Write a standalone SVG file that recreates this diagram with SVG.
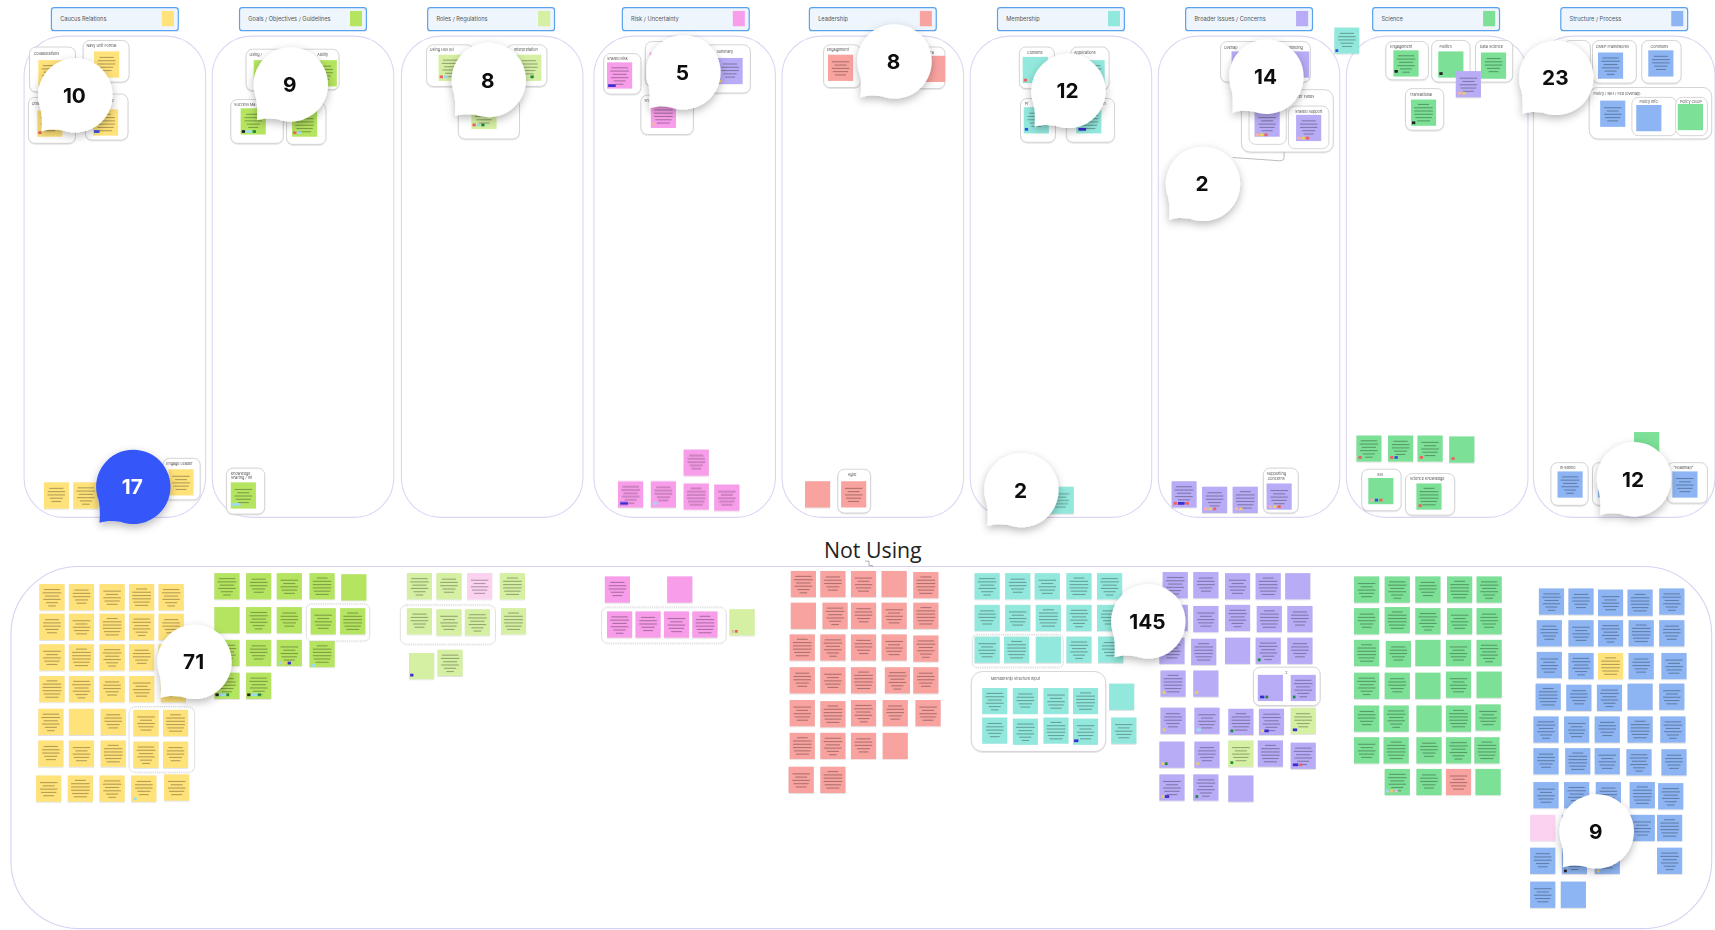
<svg xmlns="http://www.w3.org/2000/svg" width="1715" height="930" viewBox="0 0 1715 930">
<style>
.col{fill:none;stroke:#DCD5F4;stroke-width:1}
.hdr{fill:#EEF5FD;stroke:#5AA2EE;stroke-width:1.1}
.ht{font-family:"Inter","Liberation Sans",sans-serif;font-size:5.2px;fill:#555}
.fr{fill:#fff;stroke:#C9C9C9;stroke-width:0.7}
.ft{font-family:"Inter","Liberation Sans",sans-serif;font-size:3.4px;fill:#555}
.dg{fill:none;stroke:#C4C4C4;stroke-width:0.6;stroke-dasharray:1.2 0.8}
.num{font-family:"Inter","Liberation Sans",sans-serif;font-weight:700;font-size:19px;text-anchor:middle;fill:#111}
.y{fill:#FFE27A}.g{fill:#B5E461}.lg{fill:#D5EFA3}.p{fill:#F79DE9}.s{fill:#F8A3A0}.t{fill:#93E8DD}.v{fill:#B9ACF6}.gr{fill:#7CE096}.b{fill:#8DB5F3}.lp{fill:#FBD3F0}
.ln rect{fill:#000;opacity:.3}
.tag{stroke:none}
</style>
<defs>
<filter id="sh" x="-20%" y="-20%" width="140%" height="150%"><feDropShadow dx="0" dy="0.6" stdDeviation="0.6" flood-opacity="0.18"/></filter>
<filter id="bs" x="-50%" y="-50%" width="200%" height="200%"><feDropShadow dx="0" dy="3" stdDeviation="4" flood-opacity="0.28"/></filter>
<g id="n0"><rect width="23" height="24"/></g>
<g id="n1"><rect width="23" height="24"/><g class="ln"><rect x="4" y="4.5" width="15" height="1"/><rect x="3" y="7.5" width="17" height="1"/><rect x="5" y="10.5" width="13" height="1"/><rect x="3.5" y="13.5" width="16" height="1"/><rect x="6" y="16.5" width="11" height="1"/><rect x="8" y="19.5" width="7" height="1"/></g></g>
<g id="n2"><rect width="23" height="24"/><g class="ln"><rect x="5" y="5" width="13" height="1"/><rect x="3.5" y="8" width="16" height="1"/><rect x="3.5" y="11" width="16" height="1"/><rect x="5.5" y="14" width="12" height="1"/><rect x="7" y="17" width="9" height="1"/></g></g>
<g id="n3"><rect width="23" height="24"/><g class="ln"><rect x="3.5" y="6" width="16" height="1"/><rect x="6" y="9" width="11" height="1"/><rect x="3.5" y="12" width="16" height="1"/><rect x="4.5" y="15" width="14" height="1"/><rect x="6.5" y="18" width="10" height="1"/></g></g>
<g id="n4"><rect width="23" height="24"/><g class="ln"><rect x="6.5" y="4" width="10" height="1"/><rect x="3" y="7" width="17" height="1"/><rect x="3" y="10" width="17" height="1"/><rect x="3" y="13" width="17" height="1"/><rect x="4" y="16" width="15" height="1"/><rect x="5.5" y="19" width="12" height="1"/></g></g>
<path id="bub" d="M-31,12 C-29,22 -30,29 -30,33 C-24,31 -18,31 -11,32 A34,34 0 1 0 -31,12 Z"/>
</defs>

<g transform="scale(1.09375)">
<!-- columns -->
<g id="columns">
<rect class="col" x="22" y="33" width="166" height="440" rx="36"/>
<rect class="col" x="194" y="33" width="166" height="440" rx="36"/>
<rect class="col" x="367" y="33" width="166" height="440" rx="36"/>
<rect class="col" x="543" y="33" width="166" height="440" rx="36"/>
<rect class="col" x="715" y="33" width="166" height="440" rx="36"/>
<rect class="col" x="887" y="33" width="166" height="440" rx="36"/>
<rect class="col" x="1059" y="33" width="166" height="440" rx="36"/>
<rect class="col" x="1231" y="33" width="166" height="440" rx="36"/>
<rect class="col" x="1402" y="33" width="166" height="440" rx="36"/>
</g>

<!-- headers -->
<g id="hdr-caucus"><rect class="hdr" x="47" y="7" width="116" height="21" rx="2.5"/><text class="ht" x="55" y="19">Caucus Relations</text><rect class="y" x="148" y="10" width="11" height="14"/></g>
<g id="hdr-goals"><rect class="hdr" x="219" y="7" width="116" height="21" rx="2.5"/><text class="ht" x="227" y="19">Goals / Objectives / Guidelines</text><rect class="g" x="320" y="10" width="11" height="14"/></g>
<g id="hdr-roles"><rect class="hdr" x="391" y="7" width="116" height="21" rx="2.5"/><text class="ht" x="399" y="19">Roles / Regulations</text><rect class="lg" x="492" y="10" width="11" height="14"/></g>
<g id="hdr-risk"><rect class="hdr" x="569" y="7" width="116" height="21" rx="2.5"/><text class="ht" x="577" y="19">Risk / Uncertainty</text><rect class="p" x="670" y="10" width="11" height="14"/></g>
<g id="hdr-lead"><rect class="hdr" x="740" y="7" width="116" height="21" rx="2.5"/><text class="ht" x="748" y="19">Leadership</text><rect class="s" x="841" y="10" width="11" height="14"/></g>
<g id="hdr-member"><rect class="hdr" x="912" y="7" width="116" height="21" rx="2.5"/><text class="ht" x="920" y="19">Membership</text><rect class="t" x="1013" y="10" width="11" height="14"/></g>
<g id="hdr-broader"><rect class="hdr" x="1084" y="7" width="116" height="21" rx="2.5"/><text class="ht" x="1092" y="19">Broader Issues / Concerns</text><rect class="v" x="1185" y="10" width="11" height="14"/></g>
<g id="hdr-science"><rect class="hdr" x="1255" y="7" width="116" height="21" rx="2.5"/><text class="ht" x="1263" y="19">Science</text><rect class="gr" x="1356" y="10" width="11" height="14"/></g>
<g id="hdr-structure"><rect class="hdr" x="1427" y="7" width="116" height="21" rx="2.5"/><text class="ht" x="1435" y="19">Structure / Process</text><rect class="b" x="1528" y="10" width="11" height="14"/></g>

<!-- column contents -->
<g id="col1" filter="url(#sh)">
<rect class="fr" x="27" y="43" width="42" height="41" rx="6"/><text class="ft" x="31" y="50">Collaborations</text><use href="#n1" x="35" y="55" class="y"/>
<rect class="fr" x="76" y="37" width="42" height="38" rx="6"/><text class="ft" x="79" y="43">Navy Unit Formal</text><use href="#n2" x="86" y="47" class="y"/>
<rect class="fr" x="26" y="89" width="43" height="42" rx="6"/><text class="ft" x="29" y="96">Other</text><use href="#n3" x="34" y="101" class="y"/><rect class="tag" x="35" y="120" width="3" height="2.5" fill="#F06060"/>
<rect class="fr" x="78" y="86" width="39" height="42" rx="6"/><text class="ft" x="95" y="93">Letter</text><use href="#n4" x="85" y="100" class="y"/><rect class="tag" x="86" y="119" width="5" height="2.5" fill="#3050E0"/>
<use href="#n2" x="40" y="441" class="y"/><use href="#n1" x="67" y="441" class="y"/>
<rect class="fr" x="149" y="419" width="34" height="38" rx="6"/><text class="ft" x="152" y="425">Engage Leader</text><use href="#n3" x="154" y="429" class="y"/>
</g>
<g id="col2" filter="url(#sh)">
<rect class="fr" x="225" y="45" width="38" height="38" rx="6"/><text class="ft" x="228" y="51">Using /</text><use href="#n1" x="232" y="55" class="g"/>
<rect class="fr" x="264" y="45" width="46" height="37" rx="6"/><text class="ft" x="290" y="51">Ability</text><use href="#n2" x="285" y="55" class="g"/>
<rect class="fr" x="211" y="91" width="48" height="40" rx="6"/><text class="ft" x="214" y="97">Success Ma</text><use href="#n2" x="220" y="99" class="g"/><rect class="tag" x="221" y="119" width="3" height="2.5" fill="#222"/><rect class="tag" x="225" y="119" width="5" height="2.5" fill="#9DDCF0"/><rect class="tag" x="231" y="119" width="3" height="2.5" fill="#1A8A3A"/>
<rect class="fr" x="262" y="94" width="36" height="38" rx="6"/><use href="#n4" x="267" y="101" class="g"/><rect class="tag" x="268" y="120" width="3" height="2.5" fill="#F06060"/><rect class="tag" x="272" y="120" width="4" height="2.5" fill="#9DDCF0"/>
<rect class="fr" x="207" y="428" width="35" height="42" rx="6"/><text class="ft" x="211" y="434">Knowledge</text><text class="ft" x="211" y="438">Sharing / Int</text><use href="#n3" x="211" y="441" class="g"/><rect class="tag" x="212" y="460" width="8" height="2.5" fill="#9DDCF0"/>
</g>
<g id="col3" filter="url(#sh)">
<rect class="fr" x="390" y="41" width="43" height="38" rx="6"/><text class="ft" x="393" y="47">Using Hos (Bi</text><use href="#n1" x="401" y="50" class="lg"/><rect class="tag" x="402" y="69" width="3" height="2.5" fill="#F06060"/><rect class="tag" x="406" y="69" width="4" height="2.5" fill="#9DDCF0"/>
<rect class="fr" x="463" y="41" width="37" height="38" rx="6"/><text class="ft" x="470" y="47">Interpretation</text><use href="#n2" x="472" y="50" class="lg"/><rect class="tag" x="485" y="69" width="3" height="2.5" fill="#1A8A3A"/>
<rect class="fr" x="419" y="91" width="56" height="36" rx="6"/><use href="#n3" x="431" y="94" class="lg"/><rect class="tag" x="432" y="113" width="3" height="2.5" fill="#F06060"/><rect class="tag" x="436" y="113" width="3" height="2.5" fill="#9DDCF0"/><rect class="tag" x="440" y="113" width="3" height="2.5" fill="#1A8A3A"/>
</g>
<g id="col4" filter="url(#sh)">
<rect class="fr" x="552" y="49" width="34" height="37" rx="6"/><text class="ft" x="555" y="55">Shared Risk</text><use href="#n1" x="555" y="57" class="p"/><rect class="tag" x="556" y="77" width="7" height="2.5" fill="#3B2FD0"/>
<rect class="fr" x="590" y="38" width="34" height="41" rx="6"/><use href="#n2" x="594" y="48" class="p"/>
<rect class="fr" x="645" y="41" width="41" height="44" rx="6"/><text class="ft" x="655" y="48">Summary</text><use href="#n2" x="656" y="53" class="v"/><rect class="tag" x="657" y="73" width="3" height="2.5" fill="#E8D060"/>
<rect class="fr" x="586" y="87" width="48" height="36" rx="6"/><text class="ft" x="589" y="93">Sh</text><use href="#n4" x="595" y="93" class="p"/><rect class="tag" x="596" y="112" width="3" height="2.5" fill="#F5B0B0"/>
<use href="#n2" x="625" y="411" class="p"/>
<use href="#n1" x="565" y="440" class="p"/><rect class="tag" x="567" y="459" width="7" height="2.5" fill="#3B2FD0"/>
<use href="#n2" x="595" y="440" class="p"/><rect class="tag" x="597" y="459" width="4" height="2.5" fill="#9DDCF0"/>
<use href="#n4" x="625" y="442" class="p"/>
<use href="#n3" x="653" y="443" class="p"/>
</g>
<g id="col5" filter="url(#sh)">
<rect class="fr" x="753" y="41" width="34" height="39" rx="6"/><text class="ft" x="756" y="47">Engagement</text><use href="#n3" x="757" y="50" class="s"/>
<rect class="fr" x="836" y="43" width="28" height="38" rx="6"/><text class="ft" x="850" y="49">Fa</text><use href="#n0" x="841" y="51" class="s"/>
<use href="#n0" x="736" y="440" class="s"/>
<rect class="fr" x="766" y="429" width="30" height="40" rx="6"/><text class="ft" x="775" y="435">Agile</text><use href="#n3" x="769" y="440" class="s"/>
</g>
<g id="col6" filter="url(#sh)">
<rect class="fr" x="932" y="43" width="32" height="38" rx="6"/><text class="ft" x="939" y="49">Convene</text><use href="#n0" x="935" y="52" class="t"/><rect class="tag" x="936" y="72" width="3" height="2.5" fill="#F06060"/>
<rect class="fr" x="979" y="43" width="35" height="39" rx="6"/><text class="ft" x="982" y="49">Applications</text><use href="#n1" x="987" y="55" class="t"/>
<rect class="fr" x="933" y="90" width="32" height="40" rx="6"/><text class="ft" x="937" y="96">Pr</text><use href="#n2" x="936" y="98" class="t"/><rect class="tag" x="937" y="117" width="3" height="2.5" fill="#3050E0"/>
<rect class="fr" x="975" y="90" width="44" height="40" rx="6"/><text class="ft" x="996" y="96">Affiliation</text><use href="#n4" x="984" y="98" class="t"/><rect class="tag" x="986" y="117" width="7" height="2.5" fill="#3B2FD0"/>
<use href="#n3" x="958" y="445" class="t"/>
</g>
<g id="col7" filter="url(#sh)">
<rect class="fr" x="1116" y="38" width="82" height="37" rx="6"/><text class="ft" x="1119" y="45">Overlap</text><text class="ft" x="1176" y="45">Spending</text><use href="#n0" x="1126" y="47" class="v"/><use href="#n0" x="1174" y="47" class="v"/>
<rect class="fr" x="1135" y="82" width="84" height="57" rx="8"/><text class="ft" x="1180" y="90">Officer Funds</text>
<rect class="fr" x="1142" y="94" width="34" height="38" rx="6"/><use href="#n3" x="1147" y="101" class="v"/><rect class="tag" x="1148" y="122" width="3" height="2.5" fill="#F5B0B0"/><rect class="tag" x="1152" y="122" width="3" height="2.5" fill="#E8D060"/><rect class="tag" x="1156" y="122" width="3" height="2.5" fill="#F06060"/>
<rect class="fr" x="1178" y="97" width="37" height="39" rx="6"/><text class="ft" x="1184" y="103">Shared Support</text><use href="#n2" x="1185" y="105" class="v"/><rect class="tag" x="1186" y="125" width="3" height="2.5" fill="#F5B0B0"/><rect class="tag" x="1190" y="125" width="3" height="2.5" fill="#E8D060"/><rect class="tag" x="1194" y="125" width="3" height="2.5" fill="#F06060"/>
<use href="#n2" x="1220" y="25" class="t"/><rect class="tag" x="1221" y="45" width="2.5" height="2.5" fill="#3050E0"/>
<use href="#n1" x="1071" y="440" class="v"/><rect class="tag" x="1073" y="459" width="3" height="2.5" fill="#F06060"/><rect class="tag" x="1077" y="459" width="6" height="2.5" fill="#3B2FD0"/><rect class="tag" x="1084" y="459" width="3" height="2.5" fill="#F06060"/>
<use href="#n2" x="1099" y="445" class="v"/><rect class="tag" x="1101" y="464" width="3" height="2.5" fill="#F5B0B0"/><rect class="tag" x="1105" y="464" width="3" height="2.5" fill="#E8D060"/><rect class="tag" x="1109" y="464" width="3" height="2.5" fill="#F06060"/>
<use href="#n4" x="1127" y="445" class="v"/><rect class="tag" x="1129" y="464" width="3" height="2.5" fill="#F5B0B0"/><rect class="tag" x="1133" y="464" width="3" height="2.5" fill="#E8D060"/>
<rect class="fr" x="1155" y="428" width="32" height="41" rx="6"/><text class="ft" x="1158" y="434">Supporting</text><text class="ft" x="1159" y="439">Concerns</text><use href="#n3" x="1158" y="442" class="v"/><rect class="tag" x="1160" y="462" width="3" height="2.5" fill="#F5B0B0"/><rect class="tag" x="1164" y="462" width="3" height="2.5" fill="#E8D060"/><rect class="tag" x="1168" y="462" width="3" height="2.5" fill="#F06060"/>
</g>
<g id="col8" filter="url(#sh)">
<rect class="fr" x="1267" y="38" width="39" height="35" rx="6"/><text class="ft" x="1271" y="44">Engagement</text><use href="#n1" x="1274" y="46" class="gr"/><rect class="tag" x="1275" y="64" width="3" height="2.5" fill="#222"/>
<rect class="fr" x="1309" y="37" width="35" height="38" rx="6"/><text class="ft" x="1316" y="44">Politics</text><use href="#n0" x="1315" y="47" class="gr"/><rect class="tag" x="1316" y="66" width="3" height="2.5" fill="#222"/>
<rect class="fr" x="1349" y="37" width="34" height="38" rx="6"/><text class="ft" x="1353" y="44">Data Science</text><use href="#n2" x="1354" y="48" class="gr"/>
<use href="#n3" x="1331" y="65" class="v"/><rect class="tag" x="1333" y="84" width="3" height="2.5" fill="#F5B0B0"/><rect class="tag" x="1337" y="84" width="3" height="2.5" fill="#E8D060"/>
<rect class="fr" x="1285" y="81" width="35" height="38" rx="6"/><text class="ft" x="1289" y="88">Translational</text><use href="#n4" x="1290" y="91" class="gr"/><rect class="tag" x="1291" y="111" width="3" height="2.5" fill="#222"/>
<use href="#n1" x="1240" y="398" class="gr"/><rect class="tag" x="1242" y="417" width="3" height="2.5" fill="#F06060"/>
<use href="#n2" x="1269" y="398" class="gr"/><rect class="tag" x="1271" y="417" width="3" height="2.5" fill="#F06060"/><rect class="tag" x="1275" y="417" width="3" height="2.5" fill="#3050E0"/>
<use href="#n3" x="1296" y="398" class="gr"/><rect class="tag" x="1298" y="417" width="3" height="2.5" fill="#F06060"/>
<use href="#n0" x="1325" y="399" class="gr"/><rect class="tag" x="1327" y="418" width="3" height="2.5" fill="#F06060"/>
<rect class="fr" x="1245" y="429" width="36" height="38" rx="6"/><text class="ft" x="1259" y="435">SBI</text><use href="#n0" x="1251" y="437" class="gr"/><rect class="tag" x="1253" y="456" width="3" height="2.5" fill="#F5B0B0"/><rect class="tag" x="1257" y="456" width="3" height="2.5" fill="#3050E0"/><rect class="tag" x="1261" y="456" width="3" height="2.5" fill="#F06060"/>
<rect class="fr" x="1285" y="433" width="45" height="38" rx="6"/><text class="ft" x="1289" y="439">Science Knowledge</text><use href="#n4" x="1295" y="442" class="gr"/><rect class="tag" x="1297" y="461" width="3" height="2.5" fill="#F06060"/>
</g>
<g id="col9" filter="url(#sh)">
<rect class="fr" x="1430" y="37" width="24" height="38" rx="6"/>
<rect class="fr" x="1456" y="37" width="40" height="39" rx="6"/><text class="ft" x="1459" y="44">CMEP Frameworks</text><use href="#n1" x="1461" y="48" class="b"/>
<rect class="fr" x="1501" y="37" width="36" height="39" rx="6"/><text class="ft" x="1509" y="44">Commons</text><use href="#n2" x="1507" y="46" class="b"/>
<rect class="fr" x="1453" y="80" width="112" height="47" rx="8"/><text class="ft" x="1457" y="87">Policy / NIH / Fed (overlap)</text><use href="#n3" x="1463" y="92" class="b"/>
<rect class="fr" x="1492" y="89" width="41" height="35" rx="6"/><text class="ft" x="1499" y="94">Policy Info</text><use href="#n0" x="1496" y="96" class="b"/>
<rect class="fr" x="1532" y="89" width="29" height="35" rx="6"/><text class="ft" x="1536" y="94">Policy CBOP</text><use href="#n0" x="1534" y="95" class="gr"/>
<use href="#n0" x="1494" y="395" class="gr"/>
<rect class="fr" x="1418" y="423" width="34" height="39" rx="6"/><text class="ft" x="1426" y="429">In-Memo</text><use href="#n1" x="1424" y="431" class="b"/>
<rect class="fr" x="1456" y="423" width="34" height="39" rx="6"/><use href="#n2" x="1461" y="431" class="b"/>
<rect class="fr" x="1524" y="423" width="37" height="37" rx="6"/><text class="ft" x="1530" y="429">"Roadmap"</text><use href="#n3" x="1529" y="431" class="b"/>
</g>

<!-- Not Using -->
<g id="notusing">
<rect x="10" y="518" width="1555" height="331" rx="62" fill="none" stroke="#D6D2F2" stroke-width="1"/>
<text x="798" y="510" font-family="'Open Sans','Noto Sans',sans-serif" font-size="19.5" text-anchor="middle" fill="#222">Not Using</text>
</g>

<g id="nu-yellow" filter="url(#sh)">
<use href="#n1" x="36" y="534" class="y"/><use href="#n2" x="63" y="534" class="y"/><use href="#n3" x="91" y="534" class="y"/><use href="#n4" x="118" y="534" class="y"/><use href="#n1" x="145" y="534" class="y"/>
<use href="#n2" x="36" y="561" class="y"/><use href="#n3" x="63" y="561" class="y"/><use href="#n4" x="91" y="561" class="y"/><use href="#n1" x="118" y="561" class="y"/><use href="#n2" x="145" y="561" class="y"/>
<use href="#n3" x="36" y="589" class="y"/><use href="#n4" x="63" y="589" class="y"/><use href="#n1" x="91" y="589" class="y"/><use href="#n2" x="118" y="589" class="y"/><use href="#n3" x="145" y="589" class="y"/>
<use href="#n4" x="36" y="618" class="y"/><use href="#n1" x="63" y="618" class="y"/><use href="#n2" x="91" y="618" class="y"/><use href="#n3" x="118" y="618" class="y"/><use href="#n0" x="147" y="618" class="y"/>
<use href="#n1" x="35" y="648" class="y"/><use href="#n0" x="63" y="648" class="y"/><use href="#n2" x="92" y="648" class="y"/><use href="#n3" x="122" y="649" class="y"/><use href="#n4" x="149" y="649" class="y"/>
<use href="#n2" x="35" y="677" class="y"/><use href="#n3" x="63" y="677" class="y"/><use href="#n4" x="92" y="677" class="y"/><use href="#n1" x="122" y="678" class="y"/><use href="#n2" x="149" y="678" class="y"/>
<use href="#n3" x="33" y="709" class="y"/><use href="#n4" x="62" y="709" class="y"/><use href="#n1" x="91" y="709" class="y"/><use href="#n2" x="120" y="709" class="y"/><use href="#n3" x="150" y="708" class="y"/>
<rect class="tag" x="122" y="729" width="3" height="2.5" fill="#9DDCF0"/>
<rect class="dg" x="118" y="646" width="60" height="60" rx="6"/>
</g>
<g id="nu-goals" filter="url(#sh)">
<use href="#n1" x="196" y="524" class="g"/><use href="#n2" x="225" y="524" class="g"/><use href="#n3" x="253" y="524" class="g"/><use href="#n4" x="283" y="524" class="g"/><use href="#n0" x="312" y="525" class="g"/>
<use href="#n0" x="196" y="555" class="g"/><use href="#n1" x="225" y="555" class="g"/><use href="#n2" x="253" y="555" class="g"/><use href="#n3" x="284" y="556" class="g"/><use href="#n4" x="311" y="556" class="g"/>
<use href="#n1" x="196" y="585" class="g"/><use href="#n2" x="225" y="585" class="g"/><use href="#n3" x="253" y="585" class="g"/><use href="#n4" x="283" y="586" class="g"/>
<use href="#n2" x="196" y="615" class="g"/><use href="#n1" x="225" y="615" class="g"/>
<rect class="tag" x="255" y="605" width="3" height="2.5" fill="#9DDCF0"/><rect class="tag" x="259" y="605" width="3" height="2.5" fill="#E8D060"/><rect class="tag" x="263" y="605" width="3" height="2.5" fill="#3B2FD0"/><rect class="tag" x="285" y="607" width="3" height="2.5" fill="#9DDCF0"/>
<rect class="tag" x="197" y="634" width="3" height="2.5" fill="#222"/><rect class="tag" x="201" y="634" width="5" height="2.5" fill="#9DDCF0"/><rect class="tag" x="207" y="634" width="2.5" height="2.5" fill="#1A8A3A"/>
<rect class="tag" x="226" y="634" width="3" height="2.5" fill="#222"/><rect class="tag" x="230" y="634" width="5" height="2.5" fill="#9DDCF0"/><rect class="tag" x="236" y="634" width="2.5" height="2.5" fill="#1A8A3A"/>
<rect class="dg" x="280" y="552" width="58" height="34" rx="5"/>
</g>
<g id="nu-roles" filter="url(#sh)">
<use href="#n1" x="372" y="524" class="lg"/><use href="#n2" x="399" y="524" class="lg"/><use href="#n3" x="427" y="524" class="lp"/><use href="#n4" x="457" y="524" class="lg"/>
<use href="#n2" x="372" y="556" class="lg"/><use href="#n3" x="399" y="557" class="lg"/><use href="#n1" x="425" y="557" class="lg"/><use href="#n4" x="458" y="556" class="lg"/>
<use href="#n0" x="374" y="597" class="lg"/><use href="#n1" x="400" y="594" class="lg"/>
<rect class="tag" x="375" y="616" width="3" height="2.5" fill="#3B2FD0"/>
<rect class="dg" x="366" y="553" width="87" height="36" rx="6"/>
</g>
<g id="nu-risk" filter="url(#sh)">
<use href="#n2" x="553" y="527" class="p"/><use href="#n0" x="610" y="527" class="p"/>
<use href="#n1" x="555" y="559" class="p"/><use href="#n2" x="581" y="559" class="p"/><use href="#n3" x="607" y="559" class="p"/><use href="#n4" x="633" y="559" class="p"/>
<use href="#n0" x="667" y="557" class="lg"/><rect class="tag" x="669" y="576" width="2.5" height="2.5" fill="#F5B0B0"/><rect class="tag" x="672" y="576" width="2.5" height="2.5" fill="#F06060"/>
<rect class="dg" x="550" y="555" width="114" height="33" rx="6"/>
</g>
<g id="nu-lead" filter="url(#sh)">
<use href="#n1" x="723" y="522" class="s"/><use href="#n2" x="750" y="522" class="s"/><use href="#n3" x="778" y="522" class="s"/><use href="#n0" x="806" y="522" class="s"/><use href="#n4" x="835" y="523" class="s"/>
<use href="#n0" x="723" y="551" class="s"/><use href="#n1" x="752" y="551" class="s"/><use href="#n2" x="778" y="551" class="s"/><use href="#n3" x="806" y="551" class="s"/><use href="#n4" x="835" y="551" class="s"/>
<use href="#n4" x="722" y="580" class="s"/><use href="#n1" x="750" y="580" class="s"/><use href="#n2" x="778" y="580" class="s"/><use href="#n3" x="806" y="580" class="s"/><use href="#n1" x="835" y="581" class="s"/>
<use href="#n2" x="722" y="610" class="s"/><use href="#n3" x="750" y="610" class="s"/><use href="#n4" x="778" y="610" class="s"/><use href="#n1" x="809" y="610" class="s"/><use href="#n2" x="835" y="610" class="s"/>
<use href="#n3" x="722" y="640" class="s"/><use href="#n4" x="750" y="641" class="s"/><use href="#n1" x="778" y="640" class="s"/><use href="#n2" x="807" y="640" class="s"/><use href="#n3" x="837" y="640" class="s"/>
<use href="#n4" x="722" y="670" class="s"/><use href="#n1" x="750" y="670" class="s"/><use href="#n2" x="778" y="670" class="s"/><use href="#n0" x="807" y="670" class="s"/>
<use href="#n3" x="721" y="701" class="s"/><use href="#n4" x="750" y="701" class="s"/>
</g>
<g id="nu-member" filter="url(#sh)">
<use href="#n1" x="891" y="524" class="t"/><use href="#n2" x="919" y="524" class="t"/><use href="#n3" x="946" y="524" class="t"/><use href="#n4" x="975" y="524" class="t"/><use href="#n1" x="1003" y="524" class="t"/>
<use href="#n2" x="891" y="553" class="t"/><use href="#n3" x="919" y="553" class="t"/><use href="#n4" x="947" y="553" class="t"/><use href="#n1" x="975" y="553" class="t"/><use href="#n2" x="1003" y="553" class="t"/>
<use href="#n3" x="891" y="582" class="t"/><use href="#n4" x="918" y="582" class="t"/><use href="#n0" x="947" y="582" class="t"/><use href="#n1" x="975" y="582" class="t"/><use href="#n2" x="1004" y="582" class="t"/>
<rect class="dg" x="889" y="580" width="83" height="30" rx="4"/>
<rect class="fr" x="888" y="614" width="123" height="73" rx="10" stroke="#BDBDBD"/>
<text class="ft" x="906" y="622">Membership Structure Input</text>
<use href="#n1" x="898" y="629" class="t"/><use href="#n2" x="926" y="629" class="t"/><use href="#n3" x="954" y="629" class="t"/><use href="#n4" x="981" y="629" class="t"/>
<use href="#n2" x="898" y="656" class="t"/><use href="#n1" x="926" y="657" class="t"/><use href="#n4" x="954" y="656" class="t"/><use href="#n3" x="981" y="657" class="t"/>
<rect class="tag" x="982" y="676" width="4" height="2.5" fill="#3B2FD0"/>
<use href="#n0" x="1014" y="625" class="t"/><use href="#n3" x="1016" y="656" class="t"/>
</g>
<g id="nu-broader" filter="url(#sh)">
<use href="#n1" x="1063" y="523" class="v"/><use href="#n2" x="1091" y="523" class="v"/><use href="#n3" x="1120" y="524" class="v"/><use href="#n4" x="1148" y="524" class="v"/><use href="#n0" x="1175" y="524" class="v"/>
<use href="#n2" x="1063" y="553" class="v"/><use href="#n3" x="1091" y="554" class="v"/><use href="#n1" x="1120" y="553" class="v"/><use href="#n4" x="1149" y="554" class="v"/><use href="#n2" x="1177" y="554" class="v"/>
<use href="#n3" x="1060" y="583" class="v"/><use href="#n4" x="1089" y="584" class="v"/><use href="#n0" x="1120" y="583" class="v"/><use href="#n1" x="1148" y="583" class="v"/><use href="#n2" x="1177" y="583" class="v"/>
<rect class="tag" x="1150" y="602" width="2.5" height="2.5" fill="#1A8A3A"/>
<use href="#n4" x="1061" y="613" class="v"/><use href="#n0" x="1091" y="613" class="v"/>
<rect class="tag" x="1063" y="632" width="2.5" height="2.5" fill="#E8D060"/><rect class="tag" x="1093" y="632" width="2.5" height="2.5" fill="#E8D060"/>
<rect class="fr" x="1146" y="610" width="61" height="35" rx="6" stroke="#BDBDBD"/><text class="ft" x="1175" y="616">2</text>
<use href="#n0" x="1150" y="617" class="v"/><use href="#n1" x="1180" y="617" class="v"/>
<rect class="tag" x="1152" y="636" width="4" height="2.5" fill="#3B2FD0"/><rect class="tag" x="1157" y="636" width="2.5" height="2.5" fill="#1A8A3A"/><rect class="tag" x="1182" y="636" width="2.5" height="2.5" fill="#1A8A3A"/>
<use href="#n2" x="1061" y="647" class="v"/><use href="#n3" x="1092" y="647" class="v"/><use href="#n4" x="1123" y="648" class="v"/><use href="#n1" x="1151" y="648" class="v"/><use href="#n2" x="1180" y="647" class="lg"/>
<rect class="tag" x="1063" y="666" width="2.5" height="2.5" fill="#E8D060"/><rect class="tag" x="1094" y="666" width="4" height="2.5" fill="#9DDCF0"/><rect class="tag" x="1125" y="667" width="2.5" height="2.5" fill="#1A8A3A"/><rect class="tag" x="1153" y="667" width="2.5" height="2.5" fill="#E8D060"/><rect class="tag" x="1156" y="667" width="4" height="2.5" fill="#3B2FD0"/><rect class="tag" x="1182" y="666" width="4" height="2.5" fill="#3B2FD0"/>
<use href="#n0" x="1060" y="678" class="v"/><use href="#n2" x="1092" y="678" class="v"/><use href="#n3" x="1123" y="677" class="lg"/><use href="#n4" x="1150" y="677" class="v"/><use href="#n1" x="1180" y="679" class="v"/>
<rect class="tag" x="1062" y="697" width="2.5" height="2.5" fill="#E8D060"/><rect class="tag" x="1065" y="697" width="2.5" height="2.5" fill="#1A8A3A"/><rect class="tag" x="1094" y="697" width="2.5" height="2.5" fill="#E8D060"/><rect class="tag" x="1125" y="696" width="2.5" height="2.5" fill="#1A8A3A"/><rect class="tag" x="1182" y="698" width="5" height="2.5" fill="#3B2FD0"/><rect class="tag" x="1188" y="698" width="2.5" height="2.5" fill="#F06060"/>
<use href="#n3" x="1060" y="708" class="v"/><use href="#n1" x="1091" y="708" class="v"/><use href="#n0" x="1123" y="709" class="v"/>
<rect class="tag" x="1062" y="727" width="2.5" height="2.5" fill="#E8D060"/><rect class="tag" x="1065" y="727" width="4" height="2.5" fill="#3B2FD0"/><rect class="tag" x="1093" y="727" width="2.5" height="2.5" fill="#1A8A3A"/>
</g>
<g id="nu-science" filter="url(#sh)">
<use href="#n3" x="1238" y="527" class="gr"/><use href="#n1" x="1266" y="527" class="gr"/><use href="#n2" x="1294" y="527" class="gr"/><use href="#n4" x="1323" y="527" class="gr"/><use href="#n1" x="1350" y="527" class="gr"/>
<use href="#n2" x="1238" y="556" class="gr"/><use href="#n4" x="1266" y="555" class="gr"/><use href="#n1" x="1294" y="556" class="gr"/><use href="#n3" x="1323" y="556" class="gr"/><use href="#n2" x="1350" y="556" class="gr"/>
<use href="#n4" x="1238" y="585" class="gr"/><use href="#n2" x="1267" y="586" class="gr"/><use href="#n0" x="1294" y="585" class="gr"/><use href="#n3" x="1322" y="585" class="gr"/><use href="#n1" x="1350" y="585" class="gr"/>
<use href="#n1" x="1238" y="615" class="gr"/><use href="#n2" x="1266" y="615" class="gr"/><use href="#n0" x="1294" y="615" class="gr"/><use href="#n3" x="1322" y="614" class="gr"/><use href="#n0" x="1350" y="614" class="gr"/>
<use href="#n2" x="1238" y="645" class="gr"/><use href="#n1" x="1265" y="645" class="gr"/><use href="#n0" x="1295" y="645" class="gr"/><use href="#n4" x="1322" y="645" class="gr"/><use href="#n3" x="1349" y="644" class="gr"/>
<use href="#n3" x="1238" y="674" class="gr"/><use href="#n4" x="1265" y="674" class="gr"/><use href="#n2" x="1295" y="674" class="gr"/><use href="#n1" x="1322" y="674" class="gr"/><use href="#n4" x="1348" y="674" class="gr"/>
<use href="#n1" x="1266" y="703" class="gr"/><use href="#n2" x="1295" y="703" class="gr"/><use href="#n3" x="1322" y="703" class="s"/><use href="#n0" x="1349" y="703" class="gr"/>
<rect class="tag" x="1267" y="722" width="3" height="2.5" fill="#9DDCF0"/><rect class="tag" x="1271" y="722" width="3" height="2.5" fill="#E8D060"/><rect class="tag" x="1275" y="722" width="3" height="2.5" fill="#F5B0F0"/>
</g>
<g id="nu-structure" filter="url(#sh)">
<use href="#n1" x="1407" y="538" class="b"/><use href="#n2" x="1434" y="538" class="b"/><use href="#n3" x="1461" y="539" class="b"/><use href="#n4" x="1488" y="539" class="b"/><use href="#n1" x="1517" y="538" class="b"/>
<use href="#n2" x="1405" y="567" class="b"/><use href="#n3" x="1434" y="567" class="b"/><use href="#n1" x="1461" y="567" class="b"/><use href="#n4" x="1489" y="567" class="b"/><use href="#n2" x="1517" y="567" class="b"/>
<use href="#n3" x="1405" y="596" class="b"/><use href="#n1" x="1434" y="597" class="b"/><use href="#n4" x="1461" y="597" class="y"/><use href="#n2" x="1489" y="597" class="b"/><use href="#n3" x="1519" y="597" class="b"/>
<use href="#n4" x="1404" y="625" class="b"/><use href="#n2" x="1432" y="626" class="b"/><use href="#n1" x="1460" y="626" class="b"/><use href="#n0" x="1488" y="625" class="b"/><use href="#n3" x="1517" y="625" class="b"/>
<use href="#n1" x="1402" y="655" class="b"/><use href="#n3" x="1430" y="655" class="b"/><use href="#n2" x="1458" y="655" class="b"/><use href="#n4" x="1488" y="655" class="b"/><use href="#n1" x="1518" y="655" class="b"/>
<use href="#n2" x="1402" y="684" class="b"/><use href="#n4" x="1431" y="684" class="b"/><use href="#n3" x="1458" y="684" class="b"/><use href="#n1" x="1487" y="685" class="b"/><use href="#n2" x="1519" y="685" class="b"/>
<use href="#n3" x="1402" y="715" class="b"/><use href="#n1" x="1430" y="715" class="b"/><use href="#n2" x="1459" y="715" class="b"/><use href="#n4" x="1490" y="715" class="b"/><use href="#n1" x="1516" y="716" class="b"/>
<use href="#n0" x="1399" y="745" class="lp"/><use href="#n1" x="1428" y="745" class="b"/><use href="#n2" x="1458" y="745" class="b"/><use href="#n3" x="1490" y="745" class="b"/><use href="#n4" x="1515" y="745" class="b"/>
<use href="#n2" x="1399" y="775" class="b"/><use href="#n1" x="1428" y="775" class="b"/><use href="#n3" x="1458" y="775" class="b"/><use href="#n1" x="1515" y="775" class="b"/>
<rect class="tag" x="1430" y="795" width="2.5" height="2.5" fill="#222"/><rect class="tag" x="1460" y="795" width="2.5" height="2.5" fill="#E8D060"/>
<use href="#n3" x="1399" y="806" class="b"/><use href="#n0" x="1427" y="806" class="b"/>
</g>

<!-- connectors -->
<g id="connectors" fill="none" stroke="#A9A9A9" stroke-width="0.7">
<path d="M1174,139 V144 Q1174,147 1170,147 L1127,144"/>
<path d="M791,513 h3.5 v4 h3 v1.5" stroke="#999"/>
</g>

<!-- count bubbles -->
<g id="bubbles">
<g id="b10" transform="translate(68,87)" filter="url(#bs)"><use href="#bub" fill="#fff"/><text class="num" y="7">10</text></g>
<g id="b9a" transform="translate(265,77)" filter="url(#bs)"><use href="#bub" fill="#fff"/><text class="num" y="7">9</text></g>
<g id="b8a" transform="translate(446,73)" filter="url(#bs)"><use href="#bub" fill="#fff"/><text class="num" y="7">8</text></g>
<g id="b5" transform="translate(624,66)" filter="url(#bs)"><use href="#bub" fill="#fff"/><text class="num" y="7">5</text></g>
<g id="b8b" transform="translate(817,56)" filter="url(#bs)"><use href="#bub" fill="#fff"/><text class="num" y="7">8</text></g>
<g id="b12a" transform="translate(976,83)" filter="url(#bs)"><use href="#bub" fill="#fff"/><text class="num" y="7">12</text></g>
<g id="b14" transform="translate(1157,70)" filter="url(#bs)"><use href="#bub" fill="#fff"/><text class="num" y="7">14</text></g>
<g id="b2a" transform="translate(1099,168)" filter="url(#bs)"><use href="#bub" fill="#fff"/><text class="num" y="7">2</text></g>
<g id="b23" transform="translate(1422,71)" filter="url(#bs)"><use href="#bub" fill="#fff"/><text class="num" y="7">23</text></g>
<g id="b17" transform="translate(121,445)" filter="url(#bs)"><use href="#bub" fill="#3557F9"/><text class="num" y="7" fill="#fff" style="fill:#fff">17</text></g>
<g id="b2b" transform="translate(933,448)" filter="url(#bs)"><use href="#bub" fill="#fff"/><text class="num" y="7">2</text></g>
<g id="b12b" transform="translate(1493,438)" filter="url(#bs)"><use href="#bub" fill="#fff"/><text class="num" y="7">12</text></g>
<g id="b71" transform="translate(177,605)" filter="url(#bs)"><use href="#bub" fill="#fff"/><text class="num" y="7">71</text></g>
<g id="b145" transform="translate(1049,568)" filter="url(#bs)"><use href="#bub" fill="#fff"/><text class="num" y="7">145</text></g>
<g id="b9b" transform="translate(1459,760)" filter="url(#bs)"><use href="#bub" fill="#fff"/><text class="num" y="7">9</text></g>
</g>
</g>
</svg>
